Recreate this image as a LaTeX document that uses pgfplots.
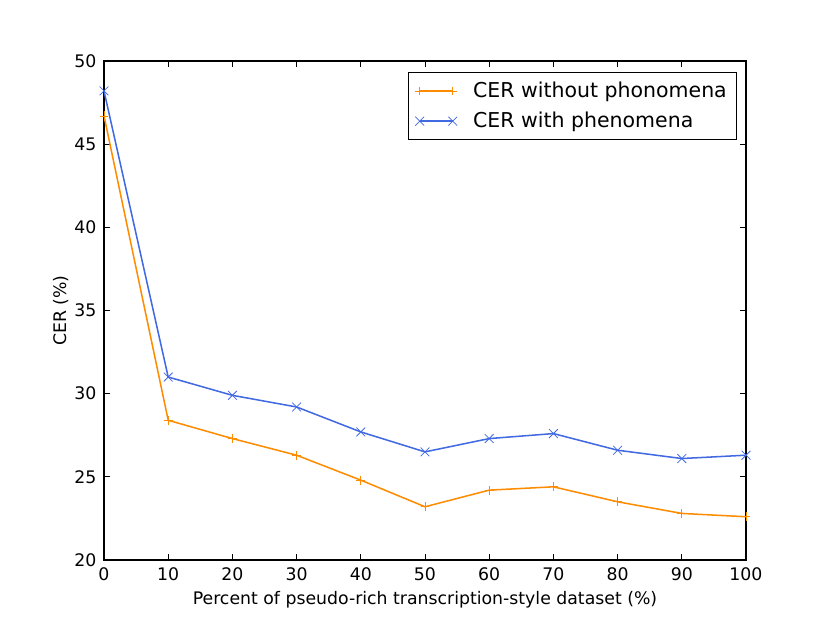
\documentclass[border=0pt]{standalone}
\usepackage{fontspec}
\setmainfont{DejaVu Sans}
\usepackage{pgfplots}
\pgfplotsset{compat=1.18}
\definecolor{cOrange}{RGB}{255,140,0}
\definecolor{cBlue}{RGB}{65,105,225}
\begin{document}
\begin{tikzpicture}
\begin{axis}[
  scale only axis,
  width=6.42in, height=4.99in,
  xmin=0, xmax=100, ymin=20, ymax=50,
  xtick={0,10,...,100}, ytick={20,25,...,50},
  tick align=inside,
  major tick length=4pt,
  tick style={black, line width=0.6pt},
  axis line style={line width=0.8pt},
  /pgf/number format/assume math mode=true,
  ticklabel style={font=\fontsize{12.5}{14}\selectfont},
  xticklabel style={yshift=-2pt},
  yticklabel style={xshift=-2pt},
  xlabel={Percent of pseudo-rich transcription-style dataset (\%)},
  ylabel={CER (\%)},
  label style={font=\fontsize{12.5}{14}\selectfont},
  xlabel style={yshift=-1pt},
  ylabel style={yshift=-3pt},
  legend style={at={(rel axis cs:0.986,0.978)}, anchor=north east,
    font=\fontsize{14.8}{17}\selectfont, draw=black, line width=0.8pt,
    inner xsep=5pt, inner ysep=5pt, row sep=5pt},
  legend cell align=left,
  legend image code/.code={\draw[#1] plot coordinates {(0cm,0cm) (0.84cm,0cm)}; \path (1.27cm,0cm);},
  every axis plot/.append style={line width=1.1pt, mark options={line width=0.55pt}},
]
\addplot[color=cOrange, mark=+, mark size=3.2pt] coordinates {
  (0,46.7) (10,28.4) (20,27.3) (30,26.3) (40,24.8) (50,23.2)
  (60,24.2) (70,24.4) (80,23.5) (90,22.8) (100,22.6)};
\addlegendentry{CER without phonomena}
\addplot[color=cBlue, mark=x, mark size=4.5pt] coordinates {
  (0,48.2) (10,31.0) (20,29.9) (30,29.2) (40,27.7) (50,26.5)
  (60,27.3) (70,27.6) (80,26.6) (90,26.1) (100,26.3)};
\addlegendentry{CER with phenomena}
\end{axis}
\pgfresetboundingbox
\path ([shift={(-1.04in,-0.63in)}]current axis.south west) rectangle ([shift={(0.84in,0.61in)}]current axis.north east);
\end{tikzpicture}
\end{document}
